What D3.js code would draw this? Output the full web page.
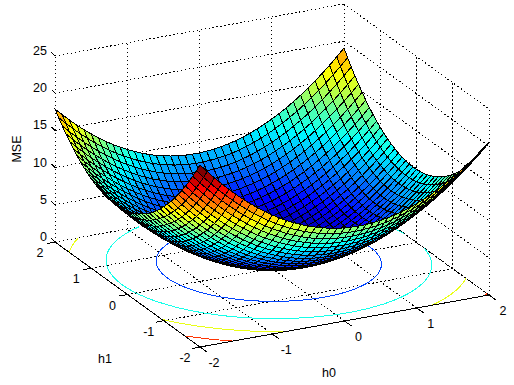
<!DOCTYPE html>
<html>
<head>
<meta charset="utf-8">
<script src="https://d3js.org/d3.v7.min.js"></script>
<style>
  body { margin: 0; background: white; }
  text { font-family: "Liberation Sans", Arial, sans-serif; font-size: 12.5px; fill: black; }
</style>
</head>
<body>
<div id="chart"></div>
<script>
const h0Values = [-2,-1.9,-1.8,-1.7,-1.6,-1.5,-1.4,-1.3,-1.2,-1.1,-1,-0.9,-0.8,-0.7,-0.6,-0.5,-0.4,-0.3,-0.2,-0.1,0,0.1,0.2,0.3,0.4,0.5,0.6,0.7,0.8,0.9,1,1.1,1.2,1.3,1.4,1.5,1.6,1.7,1.8,1.9,2];
const h1Values = [-2,-1.9,-1.8,-1.7,-1.6,-1.5,-1.4,-1.3,-1.2,-1.1,-1,-0.9,-0.8,-0.7,-0.6,-0.5,-0.4,-0.3,-0.2,-0.1,0,0.1,0.2,0.3,0.4,0.5,0.6,0.7,0.8,0.9,1,1.1,1.2,1.3,1.4,1.5,1.6,1.7,1.8,1.9,2];

// one row per h1 value, one column per h0 value
const mseValues = [
[24.48,23.41,22.38,21.41,20.49,19.62,18.79,18.02,17.30,16.62,16.00,15.43,14.90,14.43,14.01,13.64,13.31,13.04,12.82,12.64,12.52,12.45,12.42,12.45,12.53,12.66,12.83,13.06,13.34,13.66,14.04,14.47,14.94,15.47,16.05,16.68,17.35,18.08,18.86,19.68,20.56],
[23.34,22.27,21.25,20.28,19.36,18.49,17.67,16.90,16.18,15.51,14.89,14.32,13.80,13.33,12.91,12.54,12.22,11.95,11.73,11.56,11.44,11.37,11.35,11.39,11.47,11.60,11.78,12.01,12.29,12.62,13.00,13.43,13.91,14.44,15.02,15.65,16.33,17.06,17.84,18.67,19.55],
[22.25,21.18,20.17,19.20,18.28,17.42,16.60,15.83,15.12,14.45,13.83,13.27,12.75,12.28,11.87,11.50,11.18,10.92,10.70,10.54,10.42,10.35,10.34,10.37,10.45,10.59,10.77,11.00,11.29,11.62,12.00,12.44,12.92,13.45,14.04,14.67,15.35,16.09,16.87,17.70,18.59],
[21.21,20.15,19.13,18.17,17.26,16.39,15.58,14.82,14.10,13.44,12.83,12.26,11.75,11.29,10.87,10.51,10.20,9.93,9.72,9.56,9.44,9.38,9.37,9.40,9.49,9.63,9.81,10.05,10.34,10.67,11.06,11.50,11.98,12.52,13.10,13.74,14.43,15.16,15.95,16.79,17.67],
[20.22,19.16,18.15,17.19,16.28,15.42,14.61,13.85,13.14,12.48,11.87,11.31,10.80,10.34,9.93,9.57,9.26,9.00,8.79,8.63,8.52,8.46,8.45,8.49,8.58,8.72,8.91,9.15,9.43,9.77,10.16,10.60,11.09,11.63,12.22,12.86,13.55,14.29,15.08,15.92,16.81],
[19.28,18.22,17.22,16.26,15.35,14.50,13.69,12.93,12.22,11.57,10.96,10.40,9.90,9.44,9.03,8.68,8.37,8.11,7.90,7.75,7.64,7.58,7.58,7.62,7.71,7.86,8.05,8.29,8.58,8.93,9.32,9.76,10.26,10.80,11.39,12.04,12.73,13.47,14.26,15.11,16.00],
[18.39,17.34,16.33,15.38,14.48,13.62,12.82,12.06,11.36,10.71,10.10,9.55,9.04,8.59,8.19,7.83,7.53,7.28,7.07,6.92,6.81,6.76,6.76,6.80,6.90,7.05,7.24,7.49,7.78,8.13,8.53,8.97,9.47,10.02,10.61,11.26,11.95,12.70,13.50,14.34,15.24],
[17.55,16.50,15.50,14.55,13.65,12.80,12.00,11.25,10.55,9.90,9.29,8.74,8.24,7.79,7.39,7.04,6.74,6.49,6.29,6.14,6.04,5.99,5.99,6.04,6.14,6.29,6.48,6.73,7.03,7.38,7.78,8.23,8.73,9.28,9.88,10.53,11.23,11.98,12.78,13.63,14.53],
[16.76,15.71,14.72,13.77,12.87,12.02,11.23,10.48,9.78,9.13,8.54,7.99,7.49,7.04,6.65,6.30,6.00,5.75,5.56,5.41,5.31,5.27,5.27,5.32,5.42,5.58,5.78,6.03,6.33,6.69,7.09,7.54,8.04,8.60,9.20,9.85,10.55,11.31,12.11,12.96,13.86],
[16.02,14.98,13.98,13.04,12.14,11.30,10.51,9.76,9.07,8.42,7.83,7.28,6.79,6.35,5.95,5.61,5.31,5.07,4.87,4.73,4.64,4.59,4.60,4.65,4.76,4.92,5.12,5.38,5.68,6.04,6.44,6.90,7.41,7.96,8.57,9.22,9.93,10.69,11.49,12.35,13.25],
[15.33,14.29,13.30,12.36,11.47,10.63,9.83,9.09,8.40,7.76,7.17,6.63,6.14,5.70,5.31,4.97,4.67,4.43,4.24,4.10,4.01,3.97,3.98,4.04,4.15,4.31,4.51,4.77,5.08,5.44,5.85,6.31,6.82,7.38,7.99,8.65,9.35,10.11,10.92,11.78,12.69],
[14.69,13.65,12.66,11.73,10.84,10.00,9.21,8.48,7.79,7.15,6.56,6.02,5.54,5.10,4.71,4.37,4.09,3.85,3.66,3.52,3.43,3.40,3.41,3.47,3.58,3.75,3.96,4.22,4.53,4.89,5.31,5.77,6.28,6.84,7.46,8.12,8.83,9.59,10.40,11.27,12.18],
[14.10,13.07,12.08,11.15,10.26,9.43,8.64,7.91,7.22,6.59,6.00,5.47,4.99,4.55,4.17,3.83,3.55,3.31,3.13,2.99,2.91,2.87,2.89,2.95,3.07,3.24,3.45,3.72,4.03,4.40,4.81,5.28,5.79,6.36,6.97,7.64,8.35,9.12,9.94,10.80,11.72],
[13.56,12.53,11.55,10.62,9.73,8.90,8.12,7.39,6.71,6.08,5.50,4.97,4.48,4.05,3.67,3.34,3.06,2.83,2.65,2.51,2.43,2.40,2.42,2.49,2.61,2.78,2.99,3.26,3.58,3.95,4.37,4.84,5.36,5.92,6.54,7.21,7.93,8.70,9.52,10.39,11.30],
[13.07,12.04,11.06,10.14,9.26,8.43,7.65,6.92,6.24,5.62,5.04,4.51,4.03,3.60,3.23,2.90,2.62,2.39,2.21,2.08,2.01,1.98,2.00,2.07,2.19,2.37,2.59,2.86,3.18,3.55,3.97,4.45,4.97,5.54,6.16,6.83,7.56,8.33,9.15,10.02,10.94],
[12.63,11.61,10.63,9.71,8.83,8.01,7.23,6.51,5.83,5.21,4.63,4.11,3.63,3.21,2.83,2.51,2.23,2.01,1.83,1.71,1.63,1.61,1.63,1.71,1.83,2.01,2.23,2.51,2.83,3.21,3.63,4.11,4.63,5.21,5.83,6.51,7.23,8.01,8.83,9.71,10.63],
[12.24,11.22,10.25,9.33,8.45,7.63,6.86,6.14,5.47,4.84,4.27,3.75,3.28,2.86,2.49,2.16,1.89,1.67,1.50,1.38,1.30,1.28,1.31,1.39,1.52,1.70,1.92,2.20,2.53,2.91,3.34,3.81,4.34,4.92,5.55,6.23,6.96,7.73,8.56,9.44,10.37],
[11.90,10.88,9.91,8.99,8.13,7.31,6.54,5.82,5.15,4.53,3.96,3.45,2.98,2.56,2.19,1.87,1.60,1.38,1.22,1.10,1.03,1.01,1.04,1.12,1.25,1.44,1.67,1.95,2.28,2.66,3.09,3.57,4.11,4.69,5.32,6.00,6.73,7.51,8.34,9.23,10.16],
[11.61,10.60,9.63,8.71,7.85,7.03,6.27,5.55,4.89,4.27,3.71,3.19,2.73,2.31,1.94,1.63,1.36,1.15,0.98,0.87,0.80,0.79,0.82,0.91,1.04,1.23,1.46,1.74,2.08,2.46,2.90,3.38,3.92,4.50,5.14,5.82,6.56,7.34,8.18,9.06,9.99],
[11.37,10.36,9.40,8.48,7.62,6.81,6.05,5.34,4.67,4.06,3.50,2.99,2.52,2.11,1.75,1.44,1.18,0.96,0.80,0.69,0.63,0.61,0.65,0.74,0.88,1.07,1.30,1.59,1.93,2.32,2.75,3.24,3.78,4.37,5.01,5.69,6.43,7.22,8.06,8.94,9.88],
[11.18,10.17,9.21,8.30,7.44,6.64,5.88,5.17,4.51,3.90,3.34,2.83,2.37,1.96,1.60,1.30,1.04,0.83,0.67,0.56,0.50,0.49,0.53,0.62,0.76,0.96,1.20,1.49,1.83,2.22,2.66,3.15,3.69,4.28,4.92,5.62,6.36,7.15,7.99,8.88,9.82],
[11.04,10.03,9.08,8.17,7.32,6.51,5.76,5.05,4.39,3.79,3.23,2.73,2.27,1.87,1.51,1.20,0.95,0.74,0.59,0.48,0.42,0.42,0.46,0.56,0.70,0.90,1.14,1.43,1.78,2.17,2.62,3.11,3.65,4.25,4.89,5.59,6.33,7.13,7.97,8.86,9.81],
[10.95,9.95,8.99,8.09,7.24,6.44,5.68,4.98,4.33,3.73,3.17,2.67,2.22,1.82,1.46,1.16,0.91,0.71,0.55,0.45,0.40,0.40,0.44,0.54,0.69,0.89,1.13,1.43,1.78,2.18,2.62,3.12,3.67,4.26,4.91,5.61,6.36,7.15,8.00,8.90,9.85],
[10.91,9.91,8.96,8.06,7.21,6.41,5.66,4.96,4.32,3.72,3.17,2.67,2.22,1.82,1.47,1.17,0.92,0.72,0.57,0.47,0.42,0.42,0.47,0.57,0.72,0.93,1.18,1.48,1.83,2.23,2.68,3.18,3.73,4.33,4.98,5.68,6.43,7.23,8.08,8.98,9.93],
[10.92,9.92,8.98,8.08,7.24,6.44,5.69,5.00,4.35,3.75,3.21,2.71,2.27,1.87,1.52,1.23,0.98,0.79,0.64,0.54,0.50,0.50,0.55,0.66,0.81,1.02,1.27,1.57,1.93,2.33,2.78,3.29,3.84,4.45,5.10,5.80,6.56,7.36,8.21,9.12,10.07],
[10.98,9.99,9.04,8.15,7.31,6.52,5.77,5.08,4.44,3.84,3.30,2.81,2.36,1.97,1.63,1.34,1.09,0.90,0.76,0.66,0.62,0.63,0.68,0.79,0.95,1.16,1.41,1.72,2.08,2.48,2.94,3.45,4.00,4.61,5.27,5.98,6.73,7.54,8.40,9.30,10.26],
[11.09,10.10,9.16,8.27,7.43,6.64,5.90,5.21,4.57,3.98,3.44,2.95,2.51,2.12,1.78,1.49,1.25,1.06,0.92,0.83,0.79,0.80,0.86,0.98,1.14,1.35,1.61,1.92,2.28,2.69,3.15,3.66,4.22,4.83,5.49,6.20,6.96,7.77,8.63,9.54,10.50],
[11.25,10.26,9.33,8.44,7.60,6.82,6.08,5.39,4.76,4.17,3.63,3.15,2.71,2.32,1.99,1.70,1.46,1.28,1.14,1.06,1.02,1.03,1.10,1.21,1.37,1.59,1.85,2.16,2.53,2.94,3.40,3.92,4.48,5.09,5.76,6.47,7.23,8.05,8.91,9.82,10.79],
[11.46,10.48,9.54,8.66,7.83,7.04,6.31,5.63,4.99,4.41,3.88,3.39,2.96,2.58,2.24,1.96,1.73,1.54,1.41,1.33,1.29,1.31,1.38,1.49,1.66,1.88,2.14,2.46,2.83,3.24,3.71,4.23,4.79,5.41,6.07,6.79,7.56,8.37,9.24,10.16,11.12],
[11.72,10.74,9.81,8.93,8.10,7.32,6.59,5.91,5.28,4.70,4.17,3.69,3.26,2.88,2.55,2.27,2.04,1.86,1.73,1.65,1.62,1.64,1.71,1.83,2.00,2.22,2.49,2.81,3.17,3.59,4.06,4.58,5.15,5.77,6.44,7.16,7.93,8.75,9.62,10.54,11.51],
[12.03,11.05,10.13,9.25,8.42,7.65,6.92,6.24,5.61,5.04,4.51,4.03,3.61,3.23,2.90,2.63,2.40,2.22,2.09,2.02,1.99,2.01,2.09,2.21,2.38,2.61,2.88,3.20,3.57,4.00,4.47,4.99,5.57,6.19,6.86,7.59,8.36,9.18,10.05,10.98,11.95],
[12.39,11.42,10.49,9.62,8.80,8.02,7.30,6.62,6.00,5.43,4.90,4.43,4.00,3.63,3.31,3.03,2.81,2.64,2.51,2.44,2.41,2.44,2.52,2.64,2.82,3.05,3.32,3.65,4.02,4.45,4.93,5.45,6.03,6.66,7.33,8.06,8.83,9.66,10.54,11.46,12.44],
[12.80,11.83,10.91,10.04,9.22,8.45,7.73,7.06,6.44,5.87,5.34,4.87,4.45,4.08,3.76,3.49,3.27,3.10,2.98,2.91,2.89,2.92,3.00,3.13,3.31,3.54,3.81,4.14,4.52,4.95,5.43,5.96,6.54,7.17,7.85,8.58,9.36,10.19,11.07,12.00,12.98],
[13.26,12.29,11.38,10.51,9.69,8.92,8.21,7.54,6.92,6.35,5.84,5.37,4.95,4.58,4.27,4.00,3.78,3.61,3.50,3.43,3.41,3.45,3.53,3.66,3.84,4.08,4.36,4.69,5.07,5.51,5.99,6.52,7.10,7.74,8.42,9.15,9.93,10.77,11.65,12.58,13.56],
[13.77,12.81,11.89,11.03,10.21,9.45,8.73,8.07,7.46,6.89,6.38,5.91,5.50,5.14,4.82,4.56,4.34,4.18,4.06,4.00,3.99,4.02,4.11,4.24,4.43,4.67,4.95,5.29,5.67,6.11,6.59,7.13,7.72,8.35,9.04,9.77,10.56,11.40,12.28,13.22,14.20],
[14.33,13.37,12.46,11.60,10.79,10.03,9.31,8.65,8.04,7.48,6.97,6.51,6.10,5.74,5.43,5.17,4.95,4.79,4.68,4.62,4.61,4.65,4.74,4.88,5.07,5.31,5.59,5.93,6.32,6.76,7.25,7.79,8.38,9.02,9.71,10.45,11.23,12.07,12.96,13.90,14.89],
[14.94,13.98,13.07,12.22,11.41,10.65,9.94,9.29,8.68,8.12,7.61,7.15,6.75,6.39,6.08,5.82,5.62,5.46,5.35,5.29,5.28,5.33,5.42,5.56,5.75,6.00,6.29,6.63,7.02,7.46,7.96,8.50,9.09,9.73,10.43,11.17,11.96,12.80,13.69,14.64,15.63],
[15.60,14.65,13.74,12.89,12.08,11.33,10.62,9.97,9.36,8.81,8.30,7.85,7.45,7.09,6.79,6.53,6.33,6.17,6.07,6.01,6.01,6.05,6.15,6.29,6.49,6.74,7.03,7.38,7.77,8.22,8.71,9.26,9.85,10.50,11.19,11.94,12.73,13.58,14.48,15.42,16.42],
[16.31,15.36,14.46,13.61,12.80,12.05,11.35,10.70,10.10,9.55,9.05,8.60,8.19,7.84,7.54,7.29,7.09,6.94,6.84,6.78,6.78,6.83,6.93,7.08,7.28,7.53,7.82,8.17,8.57,9.02,9.52,10.07,10.67,11.31,12.01,12.76,13.56,14.41,15.31,16.26,17.25],
[17.07,16.12,15.22,14.38,13.58,12.83,12.13,11.48,10.88,10.34,9.84,9.39,8.99,8.64,8.35,8.10,7.90,7.75,7.65,7.60,7.61,7.66,7.76,7.91,8.11,8.37,8.67,9.02,9.42,9.87,10.37,10.93,11.53,12.18,12.88,13.63,14.44,15.29,16.19,17.14,18.14],
[17.88,16.94,16.04,15.20,14.40,13.66,12.96,12.32,11.72,11.18,10.68,10.24,9.84,9.50,9.20,8.96,8.76,8.62,8.52,8.48,8.48,8.54,8.64,8.80,9.00,9.26,9.56,9.92,10.32,10.78,11.28,11.84,12.44,13.10,13.80,14.56,15.36,16.22,17.12,18.08,19.08]
];

const h0Ticks = [-2, -1, 0, 1, 2];
const h1Ticks = [-2, -1, 0, 1, 2];
const zTicks = [0, 5, 10, 15, 20, 25];
const contourLevels = [5, 10, 15, 20];

const width = 514,
      height = 385;

const svg = d3.select("#chart")
  .append("svg")
  .attr("width", width)
  .attr("height", height)
  .style("display", "block");

// orthographic view: each data axis gets its own screen x / screen y scale
const h0X = d3.scaleLinear([-2, 2], [200, 489]),
      h0Y = d3.scaleLinear([-2, 2], [347, 295]),
      h1X = d3.scaleLinear([-2, 2], [0, -145]),
      h1Y = d3.scaleLinear([-2, 2], [0, -105]),
      zY = d3.scaleLinear([0, 25], [0, -186]);

const project = (a, b, z) => [h0X(a) + h1X(b), h0Y(a) + h1Y(b) + zY(z)];

const flat = mseValues.flat();
const zExtent = d3.extent(flat);
const zNorm = d3.scaleLinear(zExtent, [0, 1]).clamp(true);
const jetRamp = d3.scaleLinear()
  .domain([0, 0.125, 0.375, 0.625, 0.875, 1])
  .range(["#000080", "#0000ff", "#00ffff", "#ffff00", "#ff0000", "#800000"]);
// matlab's jet has 64 flat steps
const jet = z => jetRamp(Math.min(Math.floor(zNorm(z) * 64), 63) / 63);

const segment = (g, cls, rows, color, dash) => {
  g.selectAll("line." + cls)
    .data(rows)
    .join("line")
    .attr("class", cls)
    .attr("x1", d => d[0][0])
    .attr("y1", d => d[0][1])
    .attr("x2", d => d[1][0])
    .attr("y2", d => d[1][1])
    .attr("stroke", color)
    .attr("stroke-dasharray", dash);
};

// dotted box grid
const grid = svg.append("g").attr("shape-rendering", "crispEdges");
const gridRows = [];
for (let t of h0Ticks) {
  gridRows.push([project(t, -2, 0), project(t, 2, 0)]);
  gridRows.push([project(t, 2, 0), project(t, 2, 25)]);
}
for (let t of h1Ticks) {
  gridRows.push([project(-2, t, 0), project(2, t, 0)]);
  gridRows.push([project(2, t, 0), project(2, t, 25)]);
}
// the two outer verticals and the wall lines for each z tick
gridRows.push([project(-2, 2, 0), project(-2, 2, 25)]);
for (let z of zTicks) {
  gridRows.push([project(-2, 2, z), project(2, 2, z)]);
  gridRows.push([project(2, 2, z), project(2, -2, z)]);
}
segment(grid, "grid", gridRows, "black", "1.5 2.5");

// contours on the floor
const n = h0Values.length,
      m = h1Values.length;
const gridToH0 = d3.scaleLinear([0.5, n - 0.5], [-2, 2]),
      gridToH1 = d3.scaleLinear([0.5, m - 0.5], [-2, 2]);
const inside = p => p[0] >= 0.5 && p[0] <= n - 0.5 && p[1] >= 0.5 && p[1] <= m - 0.5;
const contourLine = d3.line()
  .defined(inside)
  .x(p => project(gridToH0(p[0]), gridToH1(p[1]), 0)[0])
  .y(p => project(gridToH0(p[0]), gridToH1(p[1]), 0)[1]);

const contours = d3.contours().size([n, m]).thresholds(contourLevels)(flat);
svg.append("g")
  .attr("fill", "none")
  .attr("shape-rendering", "crispEdges")
  .selectAll("path")
  .data(contours)
  .join("path")
  .attr("stroke", d => jet(d.value))
  .attr("d", d => d.coordinates.flat().map(contourLine).join(""));

// axes and ticks
const axes = svg.append("g").attr("shape-rendering", "crispEdges");
segment(axes, "axis", [
  [project(-2, 2, 0), project(-2, -2, 0)],
  [project(-2, -2, 0), project(2, -2, 0)]
], "black", null);
segment(axes, "h0tick", h0Ticks.map(t => {
  const p = project(t, -2, 0);
  return [p, [p[0] + 7, p[1] + 5]];
}), "black", null);
segment(axes, "h1tick", h1Ticks.map(t => {
  const p = project(-2, t, 0);
  return [p, [p[0] - 8, p[1] + 1.5]];
}), "black", null);
segment(axes, "ztick", zTicks.map(z => {
  const p = project(-2, 2, z);
  return [p, [p[0] - 3.5, p[1] - 3.5]];
}), "black", null);

// surface, back to front so nearer cells cover farther ones
const cells = [];
for (let i = n - 2; i >= 0; i--) {
  for (let j = m - 2; j >= 0; j--) {
    cells.push({i, j});
  }
}
svg.append("g")
  .attr("stroke", "black")
  .attr("stroke-width", 1)
  .attr("shape-rendering", "crispEdges")
  .selectAll("path")
  .data(cells)
  .join("path")
  .attr("fill", d => jet(mseValues[d.j][d.i]))
  .attr("d", d => {
    const pts = [[d.i, d.j], [d.i + 1, d.j], [d.i + 1, d.j + 1], [d.i, d.j + 1]]
      .map(([a, b]) => project(h0Values[a], h1Values[b], mseValues[b][a]));
    return "M" + pts.join("L") + "Z";
  });

// tick labels
const labels = svg.append("g");
labels.selectAll("text.z")
  .data(zTicks)
  .join("text")
  .attr("class", "z")
  .attr("text-anchor", "end")
  .attr("x", d => project(-2, 2, d)[0] - 8)
  .attr("y", d => project(-2, 2, d)[1] - 1)
  .text(d => d);
labels.selectAll("text.h0")
  .data(h0Ticks)
  .join("text")
  .attr("class", "h0")
  .attr("text-anchor", "middle")
  .attr("x", d => project(d, -2, 0)[0] + 14)
  .attr("y", d => project(d, -2, 0)[1] + 20)
  .text(d => d);
labels.selectAll("text.h1")
  .data(h1Ticks)
  .join("text")
  .attr("class", "h1")
  .attr("text-anchor", "middle")
  .attr("x", d => project(-2, d, 0)[0] - 15)
  .attr("y", d => project(-2, d, 0)[1] + 15)
  .text(d => d);

svg.append("text").attr("text-anchor", "middle").attr("x", 329).attr("y", 377).text("h0");
svg.append("text").attr("text-anchor", "middle").attr("x", 105).attr("y", 363).text("h1");
svg.append("text")
  .attr("text-anchor", "middle")
  .attr("transform", "translate(21,149) rotate(-90)")
  .text("MSE");
</script>
</body>
</html>
